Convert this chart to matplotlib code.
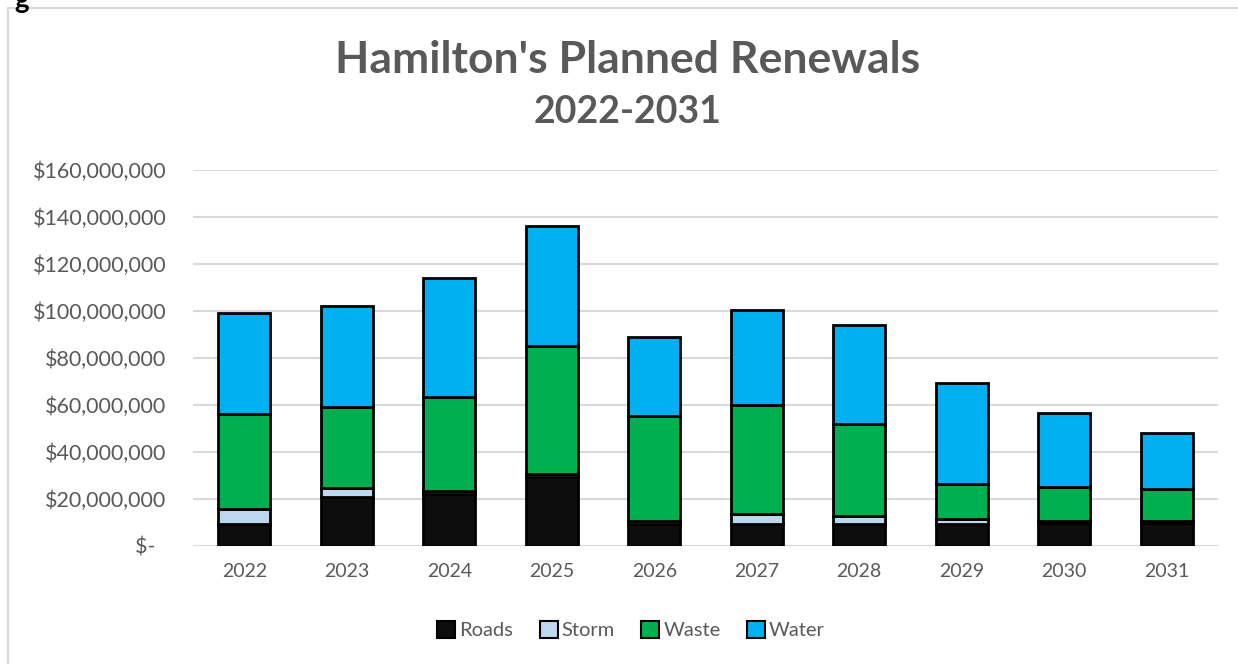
import numpy as np
import matplotlib.pyplot as plt
from matplotlib.patches import Rectangle, Patch
from matplotlib.ticker import FuncFormatter

years = ["2022", "2023", "2024", "2025", "2026", "2027", "2028", "2029", "2030", "2031"]
# values in dollars (millions)
roads = np.array([9.5, 20.7, 22.0, 29.2, 9.4, 9.4, 9.4, 9.5, 9.6, 9.9]) * 1e6
storm = np.array([6.1, 4.0, 1.5, 1.4, 1.1, 4.2, 3.2, 2.1, 1.2, 0.6]) * 1e6
waste = np.array([40.4, 34.3, 40.0, 54.4, 44.8, 46.4, 39.4, 14.6, 14.2, 13.8]) * 1e6
water = np.array([43.0, 43.0, 50.5, 51.0, 33.7, 40.5, 42.0, 43.2, 31.5, 23.7]) * 1e6

series = [("Roads", roads, "#0d0d0d"), ("Storm", storm, "#bdd7ee"),
          ("Waste", waste, "#00b050"), ("Water", water, "#00b0f0")]

plt.rcParams['font.family'] = ['Lato', 'DejaVu Sans']
grey = "#595959"

fig = plt.figure(figsize=(12.38, 6.64), dpi=100)
ax = fig.add_axes([193 / 1238, 1 - 546 / 664, (1218 - 193) / 1238, (546 - 170) / 664])

# chart border
fig.patches.append(Rectangle((8 / 1238, -0.05), 1.1, 1 - 8 / 664 + 0.05, transform=fig.transFigure,
                             fill=False, edgecolor="#d9d9d9", linewidth=1.5))
fig.text(14 / 1238, 1.0, "g", fontsize=20, fontweight="bold", color="black", va="center")

x = np.arange(len(years))
bottom = np.zeros(len(years))
for name, vals, col in series:
    ax.bar(x, vals, 0.51, bottom=bottom, color=col, edgecolor="black", linewidth=2, zorder=3)
    bottom += vals

ax.set_xlim(-0.5, 9.5)
ax.set_ylim(0, 160e6)
ax.set_yticks(np.arange(0, 160e6 + 1, 20e6))


def fmt(v, pos):
    if v == 0:
        return "$-  "
    return "${:,.0f}".format(v)


ax.yaxis.set_major_formatter(FuncFormatter(fmt))
ax.set_xticks(x)
ax.set_xticklabels(years)
ax.tick_params(axis="both", length=0, labelcolor=grey)
ax.tick_params(axis="x", pad=12, labelsize=14)
ax.tick_params(axis="y", pad=19, labelsize=15.5)
ax.grid(axis="y", color="#d9d9d9", linewidth=1.5, zorder=0)
for s in ax.spines.values():
    s.set_visible(False)

fig.text(628 / 1238, 1 - 60 / 664, "Hamilton's Planned Renewals", ha="center", va="center",
         fontsize=32, fontweight="bold", color=grey)
fig.text(628 / 1238, 1 - 112 / 664, "2022-2031", ha="center", va="center",
         fontsize=27, fontweight="bold", color=grey)

handles = [Patch(facecolor=c, edgecolor="black", linewidth=1.5, label=n) for n, _, c in series]
fig.legend(handles=handles, loc="center", bbox_to_anchor=(631 / 1238, 1 - 630 / 664), ncol=4,
           frameon=False, fontsize=14.5, labelcolor=grey, handlelength=0.9, handleheight=0.9,
           handletextpad=0.2, columnspacing=1.3)

fig.savefig("out.png", dpi=100)
